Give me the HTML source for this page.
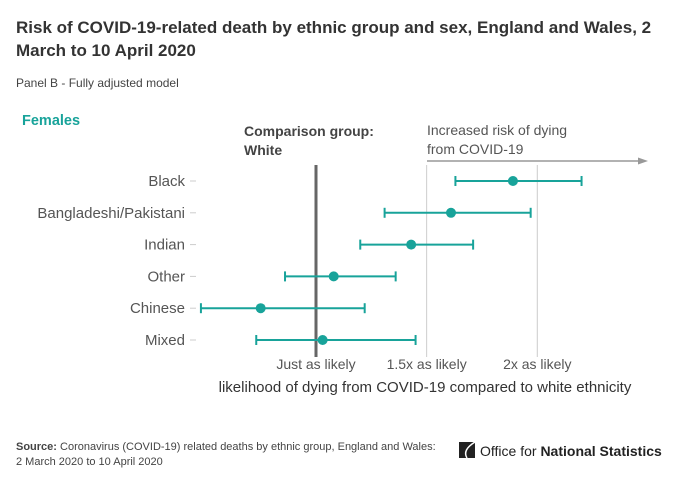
<!DOCTYPE html>
<html><head><meta charset="utf-8"><style>
body{margin:0;background:#fff;}
svg{display:block;font-family:"Liberation Sans",sans-serif;}
</style></head><body>
<svg id="chart" width="680" height="482" viewBox="0 0 680 482">
<text x="16" y="33" font-size="17" font-weight="bold" fill="#333">Risk of COVID-19-related death by ethnic group and sex, England and Wales, 2</text>
<text x="16" y="56" font-size="17" font-weight="bold" fill="#333">March to 10 April 2020</text>
<text x="16" y="87" font-size="12" fill="#444">Panel B - Fully adjusted model</text>
<text x="22" y="125" font-size="14.5" font-weight="bold" fill="#18a39a">Females</text>
<text x="244" y="136" font-size="14" font-weight="bold" fill="#444">Comparison group:</text>
<text x="244" y="155" font-size="14" font-weight="bold" fill="#444">White</text>
<text x="427" y="135" font-size="14" fill="#555">Increased risk of dying</text>
<text x="427" y="154" font-size="14" fill="#555">from COVID-19</text>
<line x1="427" y1="161" x2="640" y2="161" stroke="#999" stroke-width="1.5"/>
<polygon points="648,161 638,157.5 638,164.5" fill="#999"/>
<g id="plot"></g>
<text x="425" y="392" font-size="15" fill="#333" text-anchor="middle">likelihood of dying from COVID-19 compared to white ethnicity</text>
<text x="16" y="450" font-size="11" fill="#444"><tspan font-weight="bold">Source:</tspan> Coronavirus (COVID-19) related deaths by ethnic group, England and Wales:</text>
<text x="16" y="465" font-size="11" fill="#444">2 March 2020 to 10 April 2020</text>
<g>
<rect x="459" y="442" width="16" height="16" fill="#222"/>
<path d="M475,442 Q462,450 467,458" stroke="#fff" stroke-width="1.5" fill="none"/>
<text x="480" y="456" font-size="14" fill="#222">Office for <tspan font-weight="bold">National Statistics</tspan></text>
</g>
</svg>
<script>
const categories=["Black","Bangladeshi/Pakistani","Indian","Other","Chinese","Mixed"];
const estimates=[1.89,1.61,1.43,1.08,0.75,1.03];
const lower=[1.63,1.31,1.20,0.86,0.48,0.73];
const upper=[2.20,1.97,1.71,1.36,1.22,1.45];
const tickValues=[1,1.5,2];
const tickLabels=["Just as likely","1.5x as likely","2x as likely"];
const NS="http://www.w3.org/2000/svg";
const g=document.getElementById('plot');
function x(v){return 316+(v-1)*221.3;}
function y(i){return 181+i*31.8;}
function mk(t,a){const e=document.createElementNS(NS,t);for(const k in a)e.setAttribute(k,a[k]);g.appendChild(e);return e;}
tickValues.forEach((v,i)=>{
  let l;
  if(i===0){l=mk('line',{x1:x(v),y1:165,x2:x(v),y2:357,stroke:'#666','stroke-width':3});}
  else{l=mk('line',{x1:x(v),y1:165,x2:x(v),y2:357,stroke:'#ccc','stroke-width':1});}
  
  
  const t=mk('text',{x:x(v),y:369,'font-size':14,fill:'#555','text-anchor':'middle'});
  t.textContent=tickLabels[i];
  
  
});
categories.forEach((c,i)=>{
  const yy=y(i);
  const t=mk('text',{x:185,y:yy+5,'font-size':15,fill:'#555','text-anchor':'end'});
  t.textContent=c;
  
  
  const tk=mk('line',{x1:190,y1:yy,x2:196,y2:yy,stroke:'#ccc','stroke-width':1});
  
  
  const col='#18a39a';
  const ln=mk('line',{x1:x(lower[i]),y1:yy,x2:x(upper[i]),y2:yy,stroke:col,'stroke-width':2});
  
  
  [lower[i],upper[i]].forEach(v=>{
    const cap=mk('line',{x1:x(v),y1:yy-5,x2:x(v),y2:yy+5,stroke:col,'stroke-width':2});
    
    
  });
  const d=mk('circle',{cx:x(estimates[i]),cy:yy,r:5,fill:col});
  
  
});
</script>
</body></html>
